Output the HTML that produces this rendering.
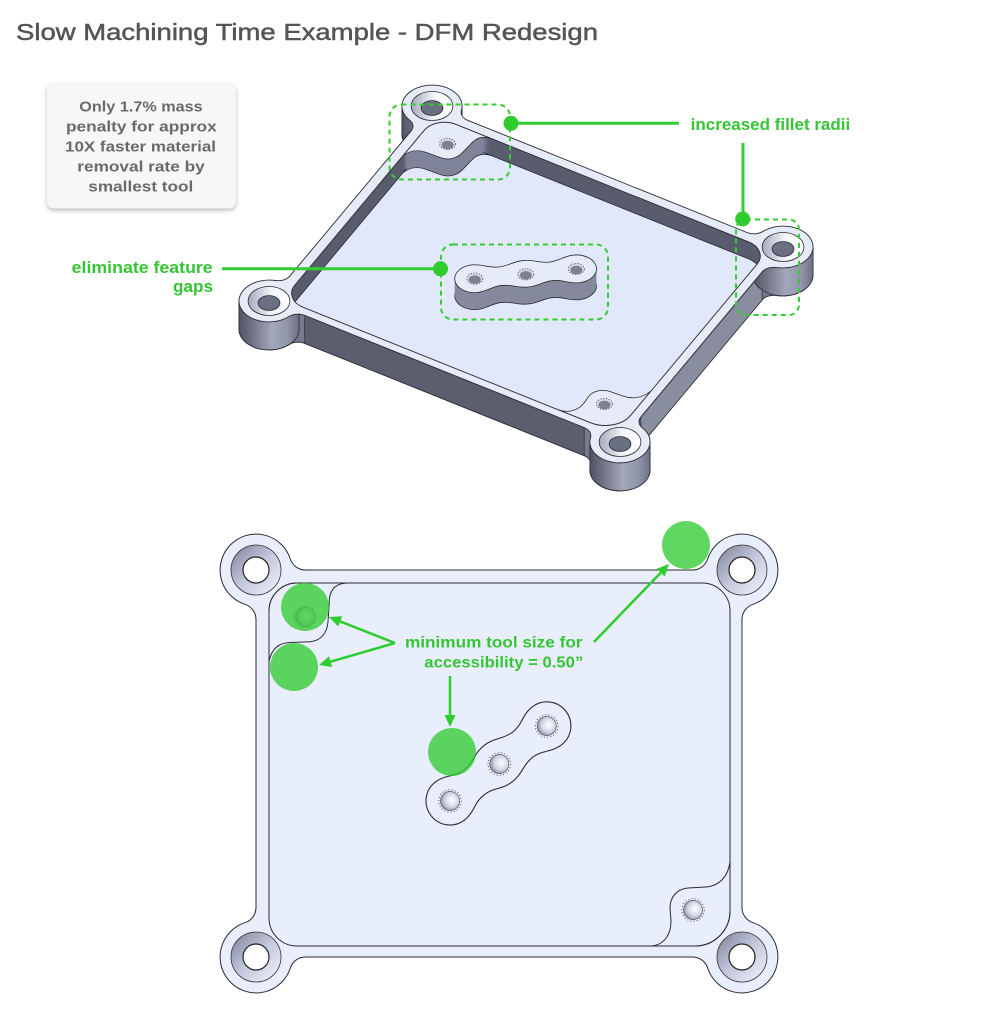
<!DOCTYPE html>
<html><head><meta charset="utf-8">
<style>html,body{margin:0;padding:0;background:#fff}svg{display:block}</style></head>
<body>
<svg width="1000" height="1010" viewBox="0 0 1000 1010" xmlns="http://www.w3.org/2000/svg" font-family="'Liberation Sans', sans-serif">
<defs>
 <path id="out" vector-effect="non-scaling-stroke" d="M305.5,570 L692.5,570 A16,16 0 0 0 707.7,558.9 A36,36 0 1 1 753.1,604.3 A16,16 0 0 0 742,619.5 L742,907.5 A16,16 0 0 0 753.1,922.7 A36,36 0 1 1 707.7,968.1 A16,16 0 0 0 692.5,957 L305.5,957 A16,16 0 0 0 290.3,968.1 A36,36 0 1 1 244.9,922.7 A16,16 0 0 0 256,907.5 L256,619.5 A16,16 0 0 0 244.9,604.3 A36,36 0 1 1 290.3,558.9 A16,16 0 0 0 305.5,570 Z"/>
 <path id="poc" vector-effect="non-scaling-stroke" d="M297,583 L702,583 A28,28 0 0 1 730,611 L730,911 A35,35 0 0 1 695,946 L297,946 A28,28 0 0 1 269,918 L269,611 A28,28 0 0 1 297,583 Z"/>
 <path id="tlt" vector-effect="non-scaling-stroke" d="M269,661 C272,648 279,643 290,642.5 L310,641.7 C320,641 327,634 328,622 L329.5,598 C331,588 337,583 348,583 L297,583 A28,28 0 0 0 269,611 Z"/>
 <path id="brt" vector-effect="non-scaling-stroke" d="M730,862 C728,877 719,886 706,887 L688,888 C677,889 670,897 670,908 L671,921 C671,935 664,945 651,946 L695,946 A35,35 0 0 0 730,911 Z"/>
 <path id="lnk" vector-effect="non-scaling-stroke" transform="translate(450,801) rotate(-37.8)" d="M0,-24 A24,24 0 0 0 0,24 C12,24 18,16 30.6,16 C43,16 48,23 61.3,23 C74,23 80,16 92,16 C104,16 110,24 122.6,24 A24,24 0 0 0 122.6,-24 C110,-24 104,-16 92,-16 C80,-16 74,-23 61.3,-23 C48,-23 43,-16 30.6,-16 C18,-16 12,-24 0,-24 Z"/>
 <clipPath id="pcl"><path transform="matrix(0.7222 0.2901 -0.4212 0.5039 487.2 -255.5)" d="M297,583 L702,583 A28,28 0 0 1 730,611 L730,911 A35,35 0 0 1 695,946 L297,946 A28,28 0 0 1 269,918 L269,611 A28,28 0 0 1 297,583 Z"/></clipPath>
 <linearGradient id="bossg" x1="0" y1="0" x2="1" y2="0">
  <stop offset="0" stop-color="#4f5261"/><stop offset="0.55" stop-color="#a3a7ba"/><stop offset="0.8" stop-color="#9296aa"/><stop offset="1" stop-color="#6c7083"/>
 </linearGradient>
 <linearGradient id="csk" x1="0" y1="0" x2="1" y2="0">
  <stop offset="0" stop-color="#a4a8bb"/><stop offset="0.55" stop-color="#f4f5fa"/><stop offset="1" stop-color="#ffffff"/>
 </linearGradient>
 <linearGradient id="ring" x1="0" y1="0" x2="1" y2="1">
  <stop offset="0" stop-color="#7c8199"/><stop offset="0.5" stop-color="#c3c8dc"/><stop offset="1" stop-color="#f2f4fc"/>
 </linearGradient>
 <radialGradient id="sh" cx="0.6" cy="0.45" r="0.6">
  <stop offset="0" stop-color="#ffffff"/><stop offset="0.6" stop-color="#d3d7e7"/><stop offset="1" stop-color="#8c91a9"/>
 </radialGradient>
 <filter id="shadow" x="-10%" y="-10%" width="120%" height="130%">
  <feDropShadow dx="0" dy="2" stdDeviation="2.2" flood-color="#000" flood-opacity="0.28"/>
 </filter>
</defs>

<rect width="1000" height="1010" fill="#fff"/>

<!-- Title -->
<text x="16" y="40" font-size="23.5" fill="#555" stroke="#555" stroke-width="0.5" textLength="582" lengthAdjust="spacingAndGlyphs">Slow Machining Time Example - DFM Redesign</text>

<!-- Callout box -->
<rect x="47" y="83.5" width="189" height="125" rx="7" fill="#f7f7f7" filter="url(#shadow)"/>
<g font-size="15" font-weight="bold" fill="#6a6a6a">
 <text x="79.3" y="111.5" textLength="123.4" lengthAdjust="spacingAndGlyphs">Only 1.7% mass</text>
 <text x="66" y="131.5" textLength="150.7" lengthAdjust="spacingAndGlyphs">penalty for approx</text>
 <text x="65" y="151.5" textLength="151" lengthAdjust="spacingAndGlyphs">10X faster material</text>
 <text x="77.3" y="171.5" textLength="127.4" lengthAdjust="spacingAndGlyphs">removal rate by</text>
 <text x="88.3" y="191.5" textLength="105" lengthAdjust="spacingAndGlyphs">smallest tool</text>
</g>

<!-- ===== 3D VIEW ===== -->
<g fill="#767a8d">
 <use href="#out" transform="translate(0,28) matrix(0.7222 0.2901 -0.4212 0.5039 487.2 -255.5)" stroke="#2b2b33" stroke-width="1"/>
 <use href="#out" transform="translate(0,26) matrix(0.7222 0.2901 -0.4212 0.5039 487.2 -255.5)"/>
 <use href="#out" transform="translate(0,24) matrix(0.7222 0.2901 -0.4212 0.5039 487.2 -255.5)"/>
 <use href="#out" transform="translate(0,22) matrix(0.7222 0.2901 -0.4212 0.5039 487.2 -255.5)"/>
 <use href="#out" transform="translate(0,20) matrix(0.7222 0.2901 -0.4212 0.5039 487.2 -255.5)"/>
 <use href="#out" transform="translate(0,18) matrix(0.7222 0.2901 -0.4212 0.5039 487.2 -255.5)"/>
 <use href="#out" transform="translate(0,16) matrix(0.7222 0.2901 -0.4212 0.5039 487.2 -255.5)"/>
 <use href="#out" transform="translate(0,14) matrix(0.7222 0.2901 -0.4212 0.5039 487.2 -255.5)"/>
 <use href="#out" transform="translate(0,12) matrix(0.7222 0.2901 -0.4212 0.5039 487.2 -255.5)"/>
 <use href="#out" transform="translate(0,10) matrix(0.7222 0.2901 -0.4212 0.5039 487.2 -255.5)"/>
 <use href="#out" transform="translate(0,8) matrix(0.7222 0.2901 -0.4212 0.5039 487.2 -255.5)"/>
 <use href="#out" transform="translate(0,6) matrix(0.7222 0.2901 -0.4212 0.5039 487.2 -255.5)"/>
 <use href="#out" transform="translate(0,4) matrix(0.7222 0.2901 -0.4212 0.5039 487.2 -255.5)"/>
 <use href="#out" transform="translate(0,2) matrix(0.7222 0.2901 -0.4212 0.5039 487.2 -255.5)"/>
</g>
<!-- straight outer walls -->
<polygon points="304.7,315.3 584.2,427.6 584.2,455.6 304.7,343.3" fill="#5a5e6d" stroke="#2b2b33" stroke-width="0.7"/>
<polygon points="640.9,417.1 762.2,272 762.2,300 640.9,445.1" fill="#898da0" stroke="#2b2b33" stroke-width="0.7"/>
<!-- boss cylinders -->
<g fill="url(#bossg)" stroke="#2b2b33" stroke-width="0.8">
 <path d="M401.9,106 L401.9,134 A30.1,20.9 0 0 0 462.1,134 L462.1,106 Z"/>
 <path d="M238.9,301 L238.9,329 A30.1,20.9 0 0 0 299.1,329 L299.1,301 Z"/>
 <path d="M589.9,442 L589.9,470 A30.1,20.9 0 0 0 650.1,470 L650.1,442 Z"/>
 <path d="M752.9,247 L752.9,275 A30.1,20.9 0 0 0 813.1,275 L813.1,247 Z"/>
</g>
<!-- top face -->
<use href="#out" transform="matrix(0.7222 0.2901 -0.4212 0.5039 487.2 -255.5)" fill="#e6ebf8" stroke="#2b2b33" stroke-width="0.9"/>

<!-- pocket -->
<g clip-path="url(#pcl)">
 <use href="#poc" transform="matrix(0.7222 0.2901 -0.4212 0.5039 487.2 -255.5)" fill="#595c6c"/>
 <use href="#poc" transform="translate(0,17) matrix(0.7222 0.2901 -0.4212 0.5039 487.2 -255.5)" fill="#e1e8fb" stroke="#2b2b33" stroke-width="0.8"/>
 <g fill="#80849a">
  <use href="#tlt" transform="translate(0,17) matrix(0.7222 0.2901 -0.4212 0.5039 487.2 -255.5)" stroke="#2b2b33" stroke-width="0.8"/>
  <use href="#tlt" transform="translate(0,15) matrix(0.7222 0.2901 -0.4212 0.5039 487.2 -255.5)"/>
  <use href="#tlt" transform="translate(0,13) matrix(0.7222 0.2901 -0.4212 0.5039 487.2 -255.5)"/>
  <use href="#tlt" transform="translate(0,11) matrix(0.7222 0.2901 -0.4212 0.5039 487.2 -255.5)"/>
  <use href="#tlt" transform="translate(0,9) matrix(0.7222 0.2901 -0.4212 0.5039 487.2 -255.5)"/>
  <use href="#tlt" transform="translate(0,7) matrix(0.7222 0.2901 -0.4212 0.5039 487.2 -255.5)"/>
  <use href="#tlt" transform="translate(0,5) matrix(0.7222 0.2901 -0.4212 0.5039 487.2 -255.5)"/>
  <use href="#tlt" transform="translate(0,3) matrix(0.7222 0.2901 -0.4212 0.5039 487.2 -255.5)"/>
  <use href="#tlt" transform="translate(0,1) matrix(0.7222 0.2901 -0.4212 0.5039 487.2 -255.5)"/>
 </g>
 <use href="#tlt" transform="matrix(0.7222 0.2901 -0.4212 0.5039 487.2 -255.5)" fill="#e6ebf8" stroke="#2b2b33" stroke-width="0.8"/>
 <use href="#brt" transform="matrix(0.7222 0.2901 -0.4212 0.5039 487.2 -255.5)" fill="#e6ebf8" stroke="#2b2b33" stroke-width="0.8"/>
 <g fill="#85899d">
  <use href="#lnk" transform="translate(0,17) matrix(0.7222 0.2901 -0.4212 0.5039 487.2 -255.5)" stroke="#2b2b33" stroke-width="0.8"/>
  <use href="#lnk" transform="translate(0,15) matrix(0.7222 0.2901 -0.4212 0.5039 487.2 -255.5)"/>
  <use href="#lnk" transform="translate(0,13) matrix(0.7222 0.2901 -0.4212 0.5039 487.2 -255.5)"/>
  <use href="#lnk" transform="translate(0,11) matrix(0.7222 0.2901 -0.4212 0.5039 487.2 -255.5)"/>
  <use href="#lnk" transform="translate(0,9) matrix(0.7222 0.2901 -0.4212 0.5039 487.2 -255.5)"/>
  <use href="#lnk" transform="translate(0,7) matrix(0.7222 0.2901 -0.4212 0.5039 487.2 -255.5)"/>
  <use href="#lnk" transform="translate(0,5) matrix(0.7222 0.2901 -0.4212 0.5039 487.2 -255.5)"/>
  <use href="#lnk" transform="translate(0,3) matrix(0.7222 0.2901 -0.4212 0.5039 487.2 -255.5)"/>
  <use href="#lnk" transform="translate(0,1) matrix(0.7222 0.2901 -0.4212 0.5039 487.2 -255.5)"/>
 </g>
 <use href="#lnk" transform="matrix(0.7222 0.2901 -0.4212 0.5039 487.2 -255.5)" fill="#e6ebf8" stroke="#2b2b33" stroke-width="0.8"/>
</g>
<use href="#poc" transform="matrix(0.7222 0.2901 -0.4212 0.5039 487.2 -255.5)" fill="none" stroke="#2b2b33" stroke-width="0.9"/>

<!-- boss holes 3D -->
<g stroke="#2b2b33" stroke-width="0.8">
 <ellipse cx="432" cy="106" rx="20.9" ry="14.5" fill="url(#csk)"/>
 <ellipse cx="432" cy="108" rx="10.9" ry="7.4" fill="#6b6f82"/>
 <ellipse cx="269" cy="301" rx="20.9" ry="14.5" fill="url(#csk)"/>
 <ellipse cx="269" cy="303" rx="10.9" ry="7.4" fill="#6b6f82"/>
 <ellipse cx="620" cy="442" rx="20.9" ry="14.5" fill="url(#csk)"/>
 <ellipse cx="620" cy="444" rx="10.9" ry="7.4" fill="#6b6f82"/>
 <ellipse cx="783" cy="247" rx="20.9" ry="14.5" fill="url(#csk)"/>
 <ellipse cx="783" cy="249" rx="10.9" ry="7.4" fill="#6b6f82"/>
</g>
<!-- small holes 3D -->
<g>
 <g transform="translate(447.6,143.9)"><ellipse rx="8" ry="5.6" fill="#d4d8e4" stroke="#555" stroke-width="0.9" stroke-dasharray="1.2 1.6"/><ellipse cy="1" rx="6" ry="4.2" fill="#7c8093"/></g>
 <g transform="translate(604.4,404)"><ellipse rx="8" ry="5.6" fill="#d4d8e4" stroke="#555" stroke-width="0.9" stroke-dasharray="1.2 1.6"/><ellipse cy="1" rx="6" ry="4.2" fill="#7c8093"/></g>
 <g transform="translate(474.8,278.6)"><ellipse rx="8" ry="5.6" fill="#d4d8e4" stroke="#555" stroke-width="0.9" stroke-dasharray="1.2 1.6"/><ellipse cy="1" rx="6" ry="4.2" fill="#7c8093"/></g>
 <g transform="translate(525.8,274.3)"><ellipse rx="8" ry="5.6" fill="#d4d8e4" stroke="#555" stroke-width="0.9" stroke-dasharray="1.2 1.6"/><ellipse cy="1" rx="6" ry="4.2" fill="#7c8093"/></g>
 <g transform="translate(576.4,269)"><ellipse rx="8" ry="5.6" fill="#d4d8e4" stroke="#555" stroke-width="0.9" stroke-dasharray="1.2 1.6"/><ellipse cy="1" rx="6" ry="4.2" fill="#7c8093"/></g>
</g>

<!-- 3D annotations -->
<g fill="none" stroke="#33cc33" stroke-width="2" stroke-dasharray="5 4">
 <rect x="389.5" y="104.5" width="120.5" height="75" rx="12"/>
 <rect x="441" y="244.5" width="167" height="75" rx="12"/>
 <rect x="736" y="219.5" width="63" height="95.5" rx="10"/>
</g>
<g stroke="#33cc33" stroke-width="3">
 <line x1="511" y1="123.3" x2="679" y2="123.3"/>
 <line x1="743" y1="143" x2="743" y2="219"/>
 <line x1="222" y1="268.8" x2="440" y2="268.8"/>
</g>
<g fill="#2ecc2e">
 <circle cx="511" cy="123.3" r="7.5"/>
 <circle cx="742.7" cy="219" r="7.5"/>
 <circle cx="440.5" cy="268.8" r="7.5"/>
</g>
<g font-size="16.5" font-weight="bold" fill="#35c535">
 <text x="690.7" y="130" textLength="159.5" lengthAdjust="spacingAndGlyphs">increased fillet radii</text>
 <text x="71.7" y="273" textLength="141" lengthAdjust="spacingAndGlyphs">eliminate feature</text>
 <text x="173" y="292" textLength="40" lengthAdjust="spacingAndGlyphs">gaps</text>
</g>

<!-- ===== BOTTOM (PLAN) VIEW ===== -->
<use href="#out" fill="#e8eefb" stroke="#2b2b33" stroke-width="1"/>
<use href="#poc" fill="none" stroke="#2b2b33" stroke-width="1"/>
<use href="#tlt" fill="none" stroke="#2b2b33" stroke-width="1"/>
<use href="#brt" fill="none" stroke="#2b2b33" stroke-width="1"/>
<use href="#lnk" fill="none" stroke="#2b2b33" stroke-width="1.1"/>
<g>
 <circle cx="256" cy="570" r="25" fill="url(#ring)" stroke="#333" stroke-width="0.8"/>
 <circle cx="256" cy="570" r="13" fill="#fff" stroke="#222" stroke-width="1.2"/>
 <circle cx="742" cy="570" r="25" fill="url(#ring)" stroke="#333" stroke-width="0.8"/>
 <circle cx="742" cy="570" r="13" fill="#fff" stroke="#222" stroke-width="1.2"/>
 <circle cx="256" cy="957" r="25" fill="url(#ring)" stroke="#333" stroke-width="0.8"/>
 <circle cx="256" cy="957" r="13" fill="#fff" stroke="#222" stroke-width="1.2"/>
 <circle cx="742" cy="957" r="25" fill="url(#ring)" stroke="#333" stroke-width="0.8"/>
 <circle cx="742" cy="957" r="13" fill="#fff" stroke="#222" stroke-width="1.2"/>
</g>
<g>
 <g transform="translate(305,617)"><circle r="9.5" fill="url(#sh)" stroke="#555" stroke-width="0.7"/><circle r="11.3" fill="none" stroke="#666" stroke-width="1" stroke-dasharray="1.2 2"/></g>
 <g transform="translate(693,910)"><circle r="9.5" fill="url(#sh)" stroke="#555" stroke-width="0.7"/><circle r="11.3" fill="none" stroke="#666" stroke-width="1" stroke-dasharray="1.2 2"/></g>
 <g transform="translate(450,801)"><circle r="9.5" fill="url(#sh)" stroke="#555" stroke-width="0.7"/><circle r="11.3" fill="none" stroke="#666" stroke-width="1" stroke-dasharray="1.2 2"/></g>
 <g transform="translate(499.3,764)"><circle r="9.5" fill="url(#sh)" stroke="#555" stroke-width="0.7"/><circle r="11.3" fill="none" stroke="#666" stroke-width="1" stroke-dasharray="1.2 2"/></g>
 <g transform="translate(546.7,726)"><circle r="9.5" fill="url(#sh)" stroke="#555" stroke-width="0.7"/><circle r="11.3" fill="none" stroke="#666" stroke-width="1" stroke-dasharray="1.2 2"/></g>
</g>
<!-- green tool circles -->
<g fill="#33cc33" fill-opacity="0.78">
 <circle cx="686" cy="545" r="24"/>
 <circle cx="305" cy="607" r="24"/>
 <circle cx="294" cy="667" r="24"/>
 <circle cx="452" cy="752" r="24"/>
</g>
<!-- arrows -->
<g stroke="#2ecc2e" stroke-width="2.5" fill="none">
 <line x1="395" y1="643" x2="340.2" y2="621.4"/>
 <line x1="395" y1="643" x2="330.5" y2="661.7"/>
 <line x1="594" y1="642" x2="660.7" y2="572.7"/>
 <line x1="450" y1="676" x2="450" y2="715"/>
</g>
<g fill="#2ecc2e">
 <polygon points="329,617 342.2,616.3 338.2,626.5"/>
 <polygon points="319,665 332.1,667 329,656.4"/>
 <polygon points="669,564 664.7,576.5 656.7,568.9"/>
 <polygon points="450,727 444.5,715 455.5,715"/>
</g>
<g font-size="15.5" font-weight="bold" fill="#35c535">
 <text x="405" y="647.3" textLength="177.5" lengthAdjust="spacingAndGlyphs">minimum tool size for</text>
 <text x="424.3" y="667.3" textLength="159" lengthAdjust="spacingAndGlyphs">accessibility = 0.50”</text>
</g>
</svg>
</body></html>
